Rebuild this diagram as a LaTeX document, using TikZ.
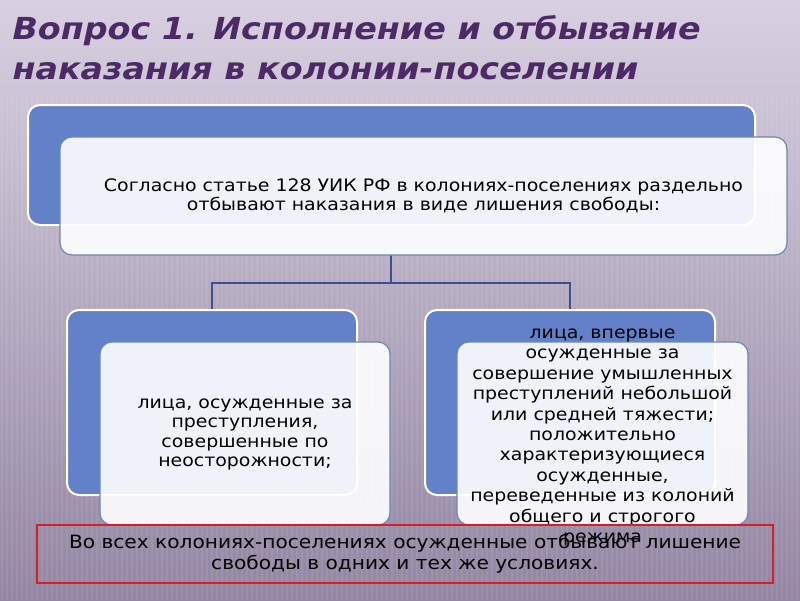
\documentclass[tikz,border=0pt]{standalone}
\usepackage{fontspec}
\setmainfont{DejaVu Sans}[FakeStretch=1.1]
\usetikzlibrary{positioning}

\definecolor{bgtop}{RGB}{216,208,224}
\definecolor{bgbottom}{RGB}{146,134,162}
\definecolor{titlepurple}{RGB}{76,42,102}
\definecolor{boxblue}{RGB}{99,129,200}
\definecolor{edgeblue}{RGB}{112,132,182}
\definecolor{linkblue}{RGB}{60,80,145}
\definecolor{notered}{RGB}{214,30,40}

\tikzset{
    x=1pt, y=-1pt, % one unit is one pixel of the slide, y runs downwards
    backbox/.style={draw=white, line width=2pt, fill=boxblue, rounded corners=12pt}, % the blue card behind
    frontbox/.style={draw=edgeblue, line width=1.2pt, fill=white, fill opacity=0.9,
        rounded corners=12pt}, % the white card in front
    cardtext/.style={align=center, font=\fontsize{17.2}{19.5}\selectfont}, % text on a white card
    link/.style={draw=linkblue, line width=1.6pt}, % the tree lines
    notebox/.style={draw=notered, line width=2.6pt, align=center, font=\fontsize{18.3}{21.5}\selectfont},
    titletext/.style={anchor=base west, text=titlepurple, font=\fontsize{30.3}{36}\bfseries\itshape\selectfont},
}

\begin{document}
\begin{tikzpicture}
    % background of the slide
    \shade[top color=bgtop, bottom color=bgbottom] (0,0) rectangle (800,600);
    \foreach \sx in {2,7,...,800}
        \draw[white, opacity=0.07, line width=1.2pt] (\sx,95) -- (\sx,600);
    \useasboundingbox (0,0) rectangle (800,600);

    % title
    \node[titletext] (title1) at (9,39) {Вопрос 1. Исполнение и отбывание};
    \node[titletext] (title2) at (9,79) {наказания в колонии-поселении};

    % blue cards
    \node[backbox, minimum width=727pt, minimum height=120pt] (topback) at (391.5,165) {};
    \node[backbox, minimum width=290pt, minimum height=185pt] (leftback) at (212,402.5) {};
    \node[backbox, minimum width=290pt, minimum height=185pt] (rightback) at (570,402.5) {};

    % tree lines
    \coordinate (fork) at (391,283);
    \draw[link] (391,255) -- (fork) -| (leftback.north);
    \draw[link] (fork) -| (rightback.north);

    % white cards
    \node[frontbox, minimum width=727pt, minimum height=118pt] (top) at (423.5,196) {};
    \node[cardtext] (toptext) at (top) {Согласно статье 128 УИК РФ в колониях-поселениях раздельно\\
         отбывают наказания в виде лишения свободы:};
    \node[frontbox, minimum width=290pt, minimum height=183pt] (left) at (245,433.5) {};
    \node[cardtext] (lefttext) at ([yshift=-1pt]left)
        {лица, осужденные за\\ преступления,\\ совершенные по\\ неосторожности;};
    \node[frontbox, minimum width=291pt, minimum height=183pt] (right) at (602.5,433.5) {};
    \node[cardtext, font=\fontsize{17.2}{20.4}\selectfont] (righttext) at ([yshift=-4pt]right)
        {лица, впервые\\ осужденные за\\ совершение умышленных\\ преступлений небольшой\\
         или средней тяжести;\\ положительно\\ характеризующиеся\\ осужденные,\\
         переведенные из колоний\\ общего и строгого\\ режима};

    % note at the bottom
    \node[notebox, minimum width=736pt, minimum height=58pt] (note) at (405,554)
        {Во всех колониях-поселениях осужденные отбывают лишение\\
         свободы в одних и тех же условиях.};
\end{tikzpicture}
\end{document}
